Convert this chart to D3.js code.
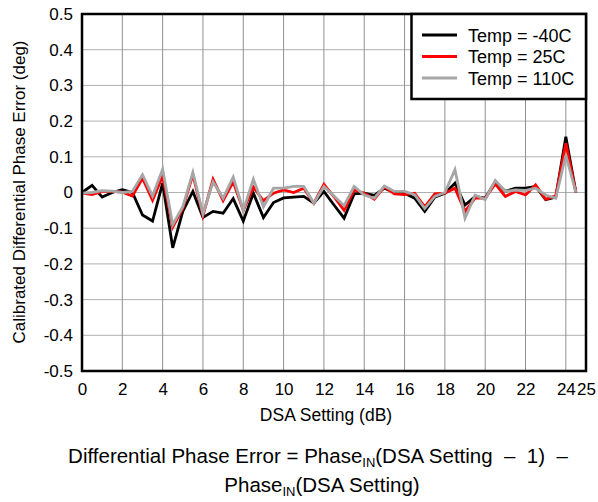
<!DOCTYPE html>
<html><head><meta charset="utf-8">
<script src="https://cdn.jsdelivr.net/npm/d3@7"></script>
<style>body{margin:0;background:#fff}svg text{font-family:"Liberation Sans",Arial,sans-serif;fill:#000}</style>
</head><body><svg id="c" width="598" height="502"></svg>
<script>
const dsa = d3.range(0, 25, 0.5);
const tempM40 = [0,0.02,-0.013,0,0.008,0,-0.063,-0.08,0.026,-0.155,-0.053,0.003,-0.07,-0.053,-0.058,-0.017,-0.08,-0.002,-0.07,-0.028,-0.015,-0.013,-0.011,-0.03,0.003,-0.035,-0.072,-0.004,-0.002,-0.008,0.012,0,-0.002,-0.016,-0.053,-0.013,-0.002,0.026,-0.035,-0.011,-0.016,0.03,0.003,0.012,0.012,0.017,-0.02,-0.013,0.156,0];
const temp25 = [-0.002,-0.006,0.003,0.003,0.001,-0.01,0.04,-0.022,0.046,-0.097,-0.045,0.05,-0.065,0.037,-0.023,0.03,-0.05,0.015,-0.023,-0.002,0.007,0,0.012,-0.03,0.023,-0.012,-0.05,0.007,-0.002,-0.019,0.016,-0.004,-0.006,-0.002,-0.04,-0.004,-0.002,0.012,-0.053,-0.016,-0.016,0.024,-0.011,0.003,-0.007,0.021,-0.019,-0.009,0.138,0];
const temp110 = [-0.002,0,0.005,0.004,0,0.003,0.05,-0.01,0.065,-0.09,-0.04,0.056,-0.06,0.03,-0.016,0.043,-0.05,0.037,-0.04,0.012,0.012,0.017,0.017,-0.03,0.017,-0.01,-0.037,0.017,-0.007,-0.016,0.018,0.003,0.003,-0.006,-0.045,-0.011,0,0.064,-0.072,-0.007,-0.02,0.034,0.003,0.007,0.006,0.012,-0.007,-0.016,0.105,0];
const seriesNames = ["Temp = -40C","Temp = 25C","Temp = 110C"];
const seriesColors = ["#000000","#ff0000","#a6a6a6"];
const xTicks = [0,2,4,6,8,10,12,14,16,18,20,22,24,25];
const yTicks = [-0.5,-0.4,-0.3,-0.2,-0.1,0,0.1,0.2,0.3,0.4,0.5];

const svg = d3.select("#c");
const L=82,R=586,T=14,B=371;
const x = d3.scaleLinear().domain([0,25]).range([L,R]);
const y = d3.scaleLinear().domain([-0.5,0.5]).range([B,T]);

// grid
svg.append("g").selectAll("line").data(yTicks).join("line")
  .attr("x1",L).attr("x2",R).attr("y1",d=>y(d)).attr("y2",d=>y(d))
  .attr("stroke","#b0b0b0").attr("stroke-width",1);
svg.append("g").selectAll("line").data(xTicks.filter(d=>d>0&&d<25)).join("line")
  .attr("x1",d=>x(d)).attr("x2",d=>x(d)).attr("y1",T).attr("y2",B)
  .attr("stroke","#909090").attr("stroke-width",1);

// axes labels
const yAxis = d3.axisLeft(y).tickValues(yTicks).tickSize(0).tickPadding(9).tickFormat(d=>String(+d.toFixed(1)));
const gy = svg.append("g").attr("transform",`translate(${L},0)`).call(yAxis);
gy.select(".domain").remove();
gy.selectAll("text").attr("font-size",17).attr("font-family","Liberation Sans, Arial");
const xAxis = d3.axisBottom(x).tickValues(xTicks).tickSize(0).tickPadding(12).tickFormat(d=>String(d));
const gx = svg.append("g").attr("transform",`translate(0,${B})`).call(xAxis);
gx.select(".domain").remove();
gx.selectAll("text").attr("font-size",17).attr("font-family","Liberation Sans, Arial");

// lines
const series=[tempM40,temp25,temp110];
const line = d3.line().x((d,i)=>x(dsa[i])).y(d=>y(d));
series.forEach((s,k)=>{
  svg.append("path").datum(s).attr("d",line).attr("fill","none")
    .attr("stroke",seriesColors[k]).attr("stroke-width",2.8).attr("stroke-linejoin","miter");
});

// frame
svg.append("rect").attr("x",L).attr("y",T).attr("width",R-L).attr("height",B-T)
  .attr("fill","none").attr("stroke","#000").attr("stroke-width",2.5);

// legend
const lg = svg.append("g");
lg.append("rect").attr("x",411.5).attr("y",T).attr("width",R-411.5).attr("height",85)
  .attr("fill","#fff").attr("stroke","#000").attr("stroke-width",2.5);
seriesNames.forEach((n,k)=>{
  const yy = 35 + k*21.5;
  lg.append("line").attr("x1",422).attr("x2",457).attr("y1",yy).attr("y2",yy)
    .attr("stroke",seriesColors[k]).attr("stroke-width",2.8);
  lg.append("text").attr("x",468).attr("y",yy+6.5).attr("font-size",18).text(n);
});

// axis titles
svg.append("text").attr("x",326).attr("y",421).attr("text-anchor","middle").attr("font-size",17.5).text("DSA Setting (dB)");
svg.append("text").attr("transform","translate(25,192) rotate(-90)").attr("text-anchor","middle").attr("font-size",17)
  .text("Calibrated Differential Phase Error (deg)");

// note
const n1 = svg.append("text").attr("x",318).attr("y",463).attr("text-anchor","middle").attr("font-size",20.5);
n1.append("tspan").text("Differential Phase Error = Phase");
n1.append("tspan").attr("font-size",13).attr("dy",4).text("IN");
n1.append("tspan").attr("dy",-4).text("(DSA Setting \u00a0\u2013\u00a0 1) \u00a0\u2013");
const n2 = svg.append("text").attr("x",322).attr("y",492).attr("text-anchor","middle").attr("font-size",20.5);
n2.append("tspan").text("Phase");
n2.append("tspan").attr("font-size",13).attr("dy",4).text("IN");
n2.append("tspan").attr("dy",-4).text("(DSA Setting)");
</script></body></html>
